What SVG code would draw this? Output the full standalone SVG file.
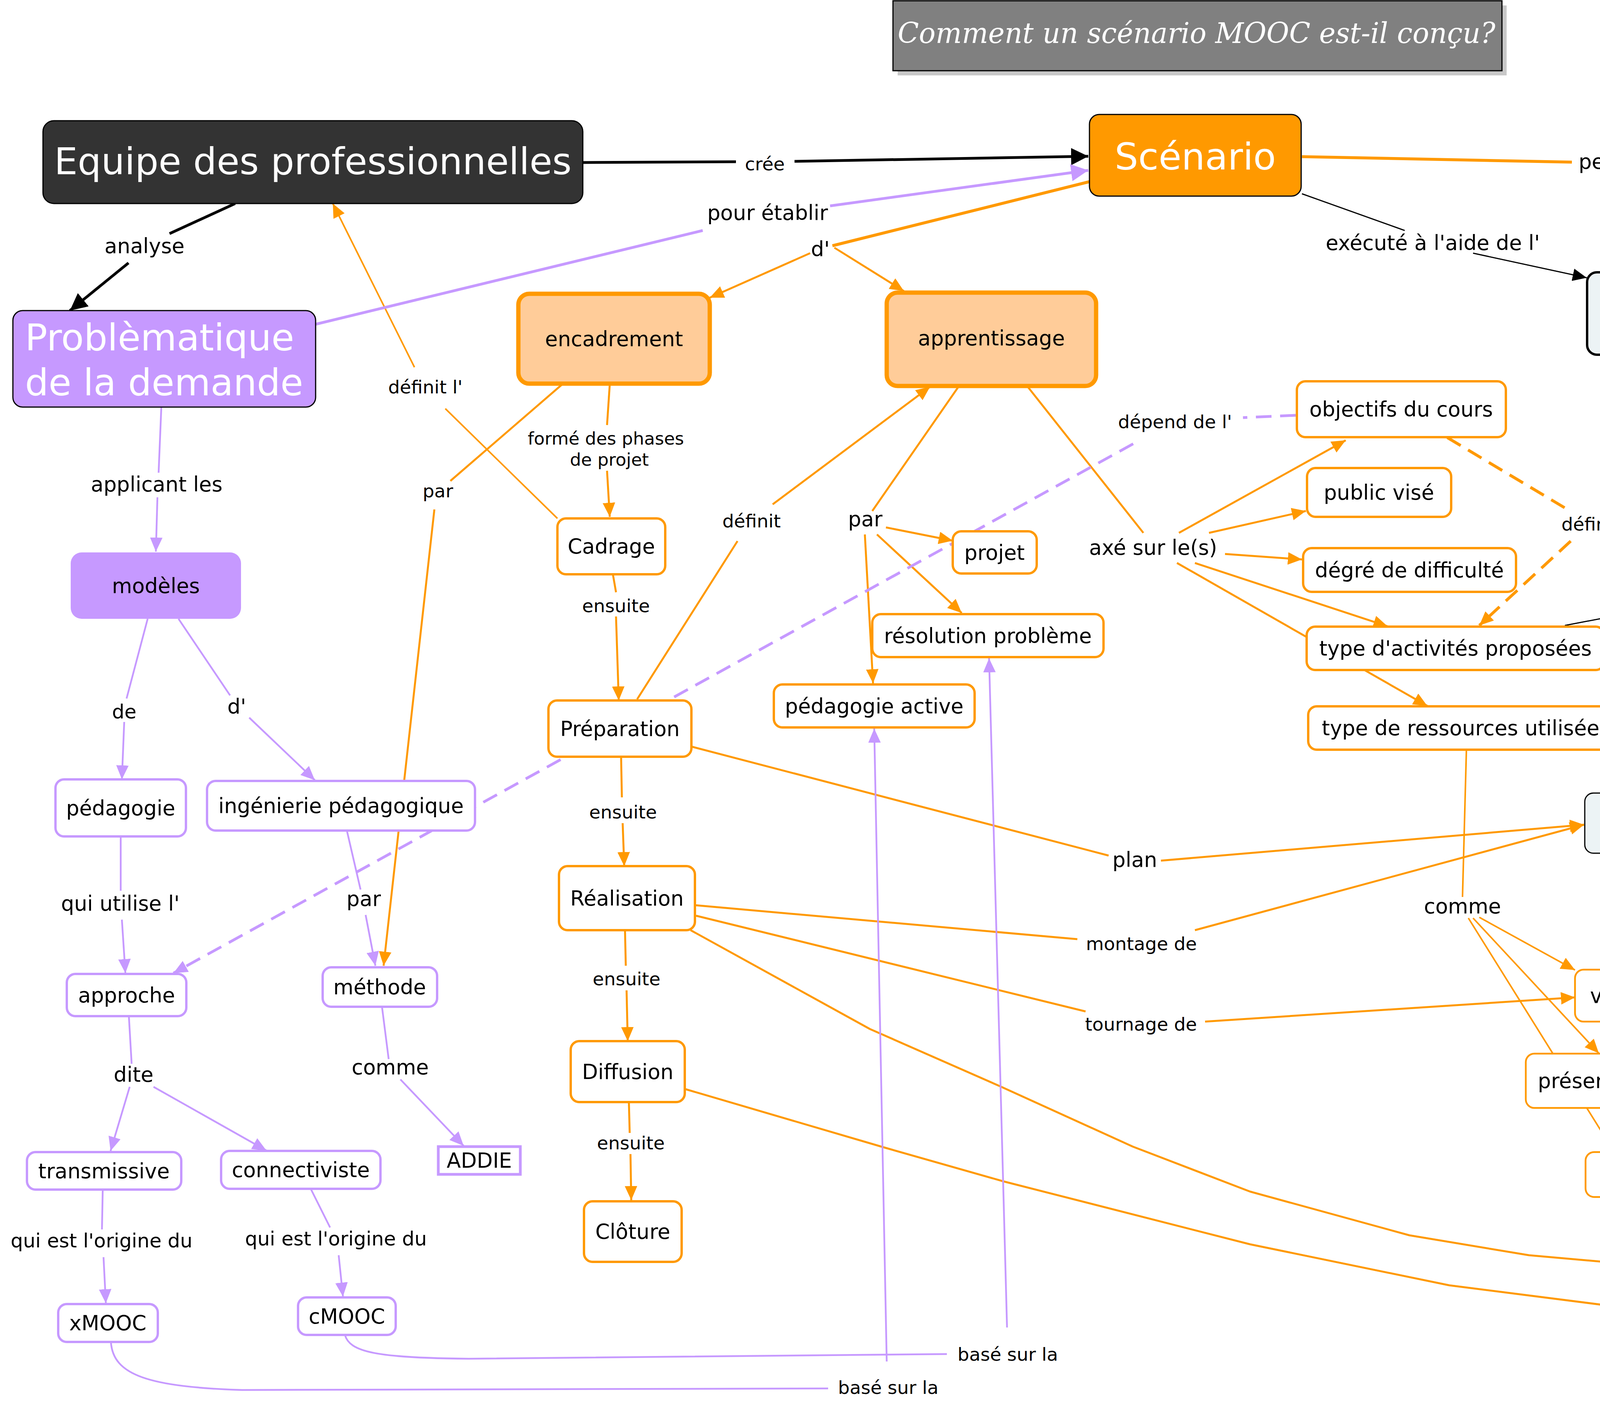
<svg xmlns="http://www.w3.org/2000/svg" width="6372" height="3622" viewBox="0 0 6372 3622">
<defs>
<style>
text{font-family:"DejaVu Sans",Verdana,sans-serif}
.t{font-size:53px;text-anchor:middle;fill:#000}
.ts{font-size:47px;text-anchor:middle;fill:#000}
.tm{font-size:50px;text-anchor:middle;fill:#000}
.tw{font-size:95px;text-anchor:middle;fill:#fff}
.ttl{font-family:"DejaVu Serif",serif;font-style:italic;font-size:72px;fill:#fff}
.c{fill:none;stroke-linejoin:round}
.k3{stroke:#000;stroke-width:3}
.k5{stroke:#000;stroke-width:4.5}
.k7{stroke:#000;stroke-width:7}
.o4{stroke:#FF9900;stroke-width:4}
.o5{stroke:#FF9900;stroke-width:5}
.o8{stroke:#FF9900;stroke-width:7.5}
.p5{stroke:#C699FF;stroke-width:4.5}
.p7{stroke:#C699FF;stroke-width:7}
.g4{stroke:#008000;stroke-width:4}
.s4{stroke:#339966;stroke-width:3.5}
.dash{stroke-dasharray:40 22}
.nk{stroke:#000;stroke-width:3}
.nb{fill:#ECF3F5;stroke:#000;stroke-width:3}
.no{fill:#fff;stroke:#FF9900;stroke-width:6}
.nol{fill:#FFCC99;stroke:#FF9900;stroke-width:11}
.np{fill:#fff;stroke:#C699FF;stroke-width:6}
.ng{fill:#fff;stroke:#008000;stroke-width:6}
</style>
<marker id="ak" markerUnits="userSpaceOnUse" markerWidth="36" markerHeight="32" refX="36" refY="16" orient="auto" viewBox="0 0 36 32"><path d="M0,0L36,16L0,32z" fill="#000"/></marker>
<marker id="akL" markerUnits="userSpaceOnUse" markerWidth="44" markerHeight="44" refX="44" refY="22" orient="auto" viewBox="0 0 44 44"><path d="M0,0L44,22L0,44z" fill="#000"/></marker>
<marker id="ao" markerUnits="userSpaceOnUse" markerWidth="36" markerHeight="32" refX="36" refY="16" orient="auto" viewBox="0 0 36 32"><path d="M0,0L36,16L0,32z" fill="#FF9900"/></marker>
<marker id="aoL" markerUnits="userSpaceOnUse" markerWidth="44" markerHeight="44" refX="44" refY="22" orient="auto" viewBox="0 0 44 44"><path d="M0,0L44,22L0,44z" fill="#FF9900"/></marker>
<marker id="ap" markerUnits="userSpaceOnUse" markerWidth="36" markerHeight="32" refX="36" refY="16" orient="auto" viewBox="0 0 36 32"><path d="M0,0L36,16L0,32z" fill="#C699FF"/></marker>
<marker id="apL" markerUnits="userSpaceOnUse" markerWidth="44" markerHeight="44" refX="44" refY="22" orient="auto" viewBox="0 0 44 44"><path d="M0,0L44,22L0,44z" fill="#C699FF"/></marker>
<marker id="ag" markerUnits="userSpaceOnUse" markerWidth="38" markerHeight="32" refX="38" refY="16" orient="auto" viewBox="0 0 38 32"><path d="M0,0L38,16L0,32z" fill="#008000"/></marker>
<marker id="as" markerUnits="userSpaceOnUse" markerWidth="36" markerHeight="30" refX="36" refY="15" orient="auto" viewBox="0 0 36 30"><path d="M0,0L36,15L0,30z" fill="#339966"/></marker>
</defs>
<rect width="6372" height="3622" fill="#fff"/>

<g id="title">
<rect x="2298" y="14" width="1559" height="179" fill="#C8C8C8"/>
<rect x="2286" y="2" width="1559" height="179" fill="#808080" stroke="#000" stroke-width="3"/>
<text class="ttl" x="2298" y="110" textLength="1530" lengthAdjust="spacingAndGlyphs">Comment un scénario MOOC est-il conçu?</text>
</g>

<g id="connectors">
<path class="c k7" d="M1492,416L1884,414"/>
<path class="c k7" d="M2034,413L2786,400" marker-end="url(#akL)"/>
<path class="c k7" d="M602,521L434,598"/>
<path class="c k7" d="M329,673L179,795" marker-end="url(#akL)"/>
<path class="c k3" d="M3333,496L3596,590"/>
<path class="c k3" d="M3771,648L4062,711" marker-end="url(#ak)"/>
<path class="c k3" d="M4710,866L4803,882"/>
<path class="c k3" d="M5015,918L5109,934" marker-end="url(#ak)"/>
<path class="c k3" d="M4494,911L4580,995"/>
<path class="c k3" d="M4623,1050L4698,1155" marker-end="url(#ak)"/>
<path class="c k5" d="M4766,1258L4835,1370"/>
<path class="c k5" d="M4874,1439L4948,1543" marker-end="url(#ak)"/>
<path class="c k3" d="M4006,1601L4236,1557"/>
<path class="c k3" d="M4527,1546L4654,1559" marker-end="url(#ak)"/>
<path class="c k5" d="M4285,2030L4491,1864"/>
<path class="c k5" d="M4583,1793L4800,1648" marker-end="url(#ak)"/>
<path class="c k3" d="M4983,1648L4985,1732"/>
<path class="c k3" d="M4992,1827L4999,1908" marker-end="url(#ak)"/>
<path class="c k5" d="M4182,2184L4169,2288"/>
<path class="c k5" d="M4159,2361L4149,2481" marker-end="url(#ak)"/>
<path class="c o8" d="M3333,401L4024,415"/>
<path class="c o8" d="M4771,424L5139,434" marker-end="url(#aoL)"/>
<path class="c o8" d="M2789,465L2131,629"/>
<path class="c o5" d="M2074,648L1817,762" marker-end="url(#ao)"/>
<path class="c o5" d="M2136,634L2314,745" marker-end="url(#ao)"/>
<path class="c o5" d="M1561,984L1554,1088"/>
<path class="c o5" d="M1554,1205L1561,1323" marker-end="url(#ao)"/>
<path class="c o5" d="M1439,984L1153,1231"/>
<path class="c o5" d="M1112,1304L982,2472" marker-end="url(#ao)"/>
<path class="c o4" d="M1427,1327L1140,1046"/>
<path class="c o4" d="M1061,940L852,521" marker-end="url(#ao)"/>
<path class="c o5" d="M1569,1470L1577,1516"/>
<path class="c o5" d="M1577,1578L1584,1793" marker-end="url(#ao)"/>
<path class="c o5" d="M1590,1937L1592,2041"/>
<path class="c o5" d="M1594,2107L1598,2217" marker-end="url(#ao)"/>
<path class="c o5" d="M1600,2381L1602,2472"/>
<path class="c o5" d="M1604,2535L1607,2665" marker-end="url(#ao)"/>
<path class="c o5" d="M1610,2823L1612,2900"/>
<path class="c o5" d="M1614,2954L1616,3072" marker-end="url(#ao)"/>
<path class="c o5" d="M1631,1790L1888,1385"/>
<path class="c o5" d="M1978,1291L2381,990" marker-end="url(#ao)"/>
<path class="c o5" d="M2455,988L2233,1308"/>
<path class="c o5" d="M2268,1350L2439,1384" marker-end="url(#ao)"/>
<path class="c o5" d="M2245,1368L2462,1569" marker-end="url(#ao)"/>
<path class="c o5" d="M2214,1368L2235,1749" marker-end="url(#ao)"/>
<path class="c o5" d="M2631,990L2927,1364"/>
<path class="c o5" d="M3018,1364L3445,1127" marker-end="url(#ao)"/>
<path class="c o5" d="M3095,1364L3343,1308" marker-end="url(#ao)"/>
<path class="c o5" d="M3136,1418L3333,1432" marker-end="url(#ao)"/>
<path class="c o5" d="M3059,1441L3552,1603" marker-end="url(#ao)"/>
<path class="c o5" d="M3013,1441L3654,1807" marker-end="url(#ao)"/>
<path class="c o8 dash" d="M3705,1120L4006,1300"/>
<path class="c o8 dash" d="M4021,1385L3787,1601" marker-end="url(#ao)"/>
<path class="c o4" d="M3754,1919L3744,2296"/>
<path class="c o4" d="M3787,2348L4032,2483" marker-end="url(#ao)"/>
<path class="c o4" d="M3771,2350L4093,2696" marker-end="url(#ao)"/>
<path class="c o4" d="M3759,2350L4132,2948" marker-end="url(#ao)"/>
<path class="c o5" d="M1770,1911L2838,2190"/>
<path class="c o5" d="M2972,2203L4055,2111" marker-end="url(#ao)"/>
<path class="c o5" d="M1779,2317L2758,2404"/>
<path class="c o5" d="M3059,2381L4055,2111" marker-end="url(#ao)"/>
<path class="c o5" d="M1782,2344L2779,2589"/>
<path class="c o5" d="M3085,2615L4032,2553" marker-end="url(#ao)"/>
<path class="c o5" d="M1768,2381L2227,2634L2559,2780L2900,2935L3200,3050L3608,3162L3914,3213L4363,3253L4800,3259L5968,3226"/>
<path class="c o5" d="M6318,3193L6352,2410L6340,1972L6313,1210L6241,980L6180,872L6048,733L5894,586L5869,559" marker-end="url(#ao)"/>
<path class="c o5" d="M1755,2788L2263,2937L2569,3024L3200,3185L3710,3290L4220,3355L4800,3392L6030,3390"/>
<path class="c o5" d="M6173,3330L6175,3292"/>
<path class="c o5" d="M6180,3147L6201,2410L6195,1663L6160,1210L6099,1003L6037,872L5945,733L5833,586L5813,557" marker-end="url(#ao)"/>
<path class="c g4" d="M5716,556L5719,741"/>
<path class="c g4" d="M5719,799L5712,976" marker-end="url(#ag)"/>
<path class="c g4" d="M5716,1077L5719,1158"/>
<path class="c g4" d="M5719,1225L5723,1339" marker-end="url(#ag)"/>
<path class="c g4" d="M5731,1447L5739,1557"/>
<path class="c g4" d="M5744,1624L5750,1740" marker-end="url(#ag)"/>
<path class="c g4" d="M5755,1856L5757,1960"/>
<path class="c g4" d="M5760,2014L5767,2168" marker-end="url(#ag)"/>
<path class="c g4" d="M5777,2273L5782,2398"/>
<path class="c g4" d="M5764,2458L5687,2568" marker-end="url(#ag)"/>
<path class="c g4" d="M5787,2458L5790,2792" marker-end="url(#ag)"/>
<path class="c g4" d="M5815,2458L5932,2576" marker-end="url(#ag)"/>
<path class="c g4" d="M5680,1856L5170,2246"/>
<path class="c g4" d="M5005,2324L4256,2518" marker-end="url(#ag)"/>
<path class="c s4" d="M5022,2336L4300,2696" marker-end="url(#as)"/>
<path class="c s4" d="M5045,2342L4246,2946" marker-end="url(#as)"/>
<path class="c p7" d="M808,830L1799,590"/>
<path class="c p7" d="M2125,527L2786,436" marker-end="url(#apL)"/>
<path class="c p5" d="M413,1042L406,1210"/>
<path class="c p5" d="M403,1273L399,1412" marker-end="url(#ap)"/>
<path class="c p5" d="M378,1584L324,1788"/>
<path class="c p5" d="M318,1848L312,1995" marker-end="url(#ap)"/>
<path class="c p5" d="M457,1584L589,1780"/>
<path class="c p5" d="M638,1837L806,1997" marker-end="url(#ap)"/>
<path class="c p5" d="M309,2141L309,2280"/>
<path class="c p5" d="M312,2354L321,2491" marker-end="url(#ap)"/>
<path class="c p5" d="M888,2126L923,2277"/>
<path class="c p5" d="M936,2342L961,2472" marker-end="url(#ap)"/>
<path class="c p5" d="M330,2603L337,2723"/>
<path class="c p5" d="M332,2782L283,2946" marker-end="url(#ap)"/>
<path class="c p5" d="M393,2782L682,2945" marker-end="url(#ap)"/>
<path class="c p5" d="M978,2578L995,2711"/>
<path class="c p5" d="M1025,2763L1187,2933" marker-end="url(#ap)"/>
<path class="c p5" d="M263,3045L261,3147"/>
<path class="c p5" d="M265,3218L271,3336" marker-end="url(#ap)"/>
<path class="c p5" d="M796,3044L845,3142"/>
<path class="c p5" d="M867,3213L878,3319" marker-end="url(#ap)"/>
<path class="c p5" d="M284,3436C290,3520 380,3550 620,3558L2120,3554"/>
<path class="c p5" d="M2270,3485L2238,1865" marker-end="url(#ap)"/>
<path class="c p5" d="M883,3417C895,3460 960,3476 1200,3478L2424,3466"/>
<path class="c p5" d="M2578,3398L2532,1685" marker-end="url(#ap)"/>
<path class="c p7 dash" d="M3317,1063L3182,1069"/>
<path class="c p7 dash" d="M2901,1136L444,2491" marker-end="url(#ap)"/>
</g>

<g id="linking-phrases">
<text class="ts" x="1958" y="436">crée</text>
<text class="t" x="370" y="648">analyse</text>
<text class="t" x="1965" y="563">pour établir</text>
<text class="t" x="2100" y="656">d'</text>
<text class="t" x="4398" y="432">permet de mettre en place</text>
<text class="t" x="3668" y="640">exécuté à l'aide de l'</text>
<text class="t" x="4911" y="918">comme</text>
<text class="t" x="4601" y="1061">sur la base d'</text>
<text class="ts" x="5718" y="786">consiste en</text>
<text class="ts" x="5717" y="1205">qui sont faits de</text>
<text class="t" x="4856" y="1418">qui permet d'assembler les</text>
<text class="ts" x="5741" y="1605">qui sont divisées en</text>
<text class="t" x="4363" y="1551">est écrit sur</text>
<text class="t" x="4986" y="1794">comme</text>
<text class="t" x="4529" y="1840">qui se fait sur les</text>
<text class="ts" x="5757" y="2003">suivies d'</text>
<text class="ts" x="5110" y="2311">faites de</text>
<text class="t" x="5788" y="2436">par</text>
<text class="ts" x="4165" y="2342">de</text>
<text class="t" x="3744" y="2338">comme</text>
<text class="ts" x="4072" y="1358">définit</text>
<text class="ts" x="3008" y="1096">dépend de l'</text>
<text class="t" x="2952" y="1420">axé sur le(s)</text>
<text class="t" x="2215" y="1347">par</text>
<text class="ts" x="1924" y="1350">définit</text>
<text class="ts" x="1089" y="1007">définit l'</text>
<text class="ts" style="font-size:45px"><tspan x="1551" y="1138">formé des phases</tspan><tspan x="1560" y="1192">de projet</tspan></text>
<text class="ts" x="1121" y="1273">par</text>
<text class="ts" x="1577" y="1567">ensuite</text>
<text class="ts" x="1595" y="2095">ensuite</text>
<text class="ts" x="1604" y="2522">ensuite</text>
<text class="ts" x="1615" y="2942">ensuite</text>
<text class="t" x="401" y="1258">applicant les</text>
<text class="tm" x="318" y="1839">de</text>
<text class="t" x="606" y="1827">d'</text>
<text class="t" x="308" y="2331">qui utilise l'</text>
<text class="t" x="931" y="2319">par</text>
<text class="t" x="342" y="2769">dite</text>
<text class="t" x="999" y="2750">comme</text>
<text class="tm" x="260" y="3193">qui est l'origine du</text>
<text class="tm" x="860" y="3188">qui est l'origine du</text>
<text class="ts" x="2580" y="3483">basé sur la</text>
<text class="ts" x="2274" y="3568">basé sur la</text>
<text class="t" x="2905" y="2219">plan</text>
<text class="ts" x="2922" y="2432">montage de</text>
<text class="ts" x="2921" y="2638">tournage de</text>
<text class="ts" x="6150" y="3232">mise en ligne</text>
<text class="ts" x="6175" y="3405">promotion</text>
</g>

<g id="n-equipe"><rect x="110" y="309" width="1382" height="212" rx="28" fill="#333333" class="nk"/><text class="tw" x="801" y="446">Equipe des professionnelles</text></g>
<g id="n-scenario"><rect x="2789" y="293" width="542" height="209" rx="25" fill="#FF9900" class="nk"/><text class="tw" x="3060" y="434">Scénario</text></g>
<g id="n-dispositif"><rect x="5141" y="313" width="1141" height="241" rx="25" fill="#97C800" class="nk"/><text class="tw" x="5711" y="463">Dispositif de formation</text></g>
<g id="n-problematique"><rect x="33" y="795" width="775" height="247" rx="25" fill="#C699FF" class="nk"/><text class="tw" style="text-anchor:start"><tspan x="64" y="897">Problèmatique</tspan><tspan x="64" y="1012">de la demande</tspan></text></g>
<g id="n-encadrement"><rect x="1327" y="752" width="490" height="230" rx="28" class="nol"/><text class="t" x="1572" y="886">encadrement</text></g>
<g id="n-apprentissage"><rect x="2270" y="749" width="536" height="239" rx="28" class="nol"/><text class="t" x="2538" y="884">apprentissage</text></g>
<g id="n-cadrage"><rect x="1427" y="1327" width="276" height="143" rx="22" class="no"/><text class="t" x="1565" y="1417">Cadrage</text></g>
<g id="n-preparation"><rect x="1404" y="1793" width="366" height="144" rx="22" class="no"/><text class="t" x="1587" y="1884">Préparation</text></g>
<g id="n-realisation"><rect x="1431" y="2217" width="348" height="164" rx="22" class="no"/><text class="t" x="1605" y="2318">Réalisation</text></g>
<g id="n-diffusion"><rect x="1461" y="2665" width="292" height="156" rx="22" class="no"/><text class="t" x="1607" y="2762">Diffusion</text></g>
<g id="n-cloture"><rect x="1495" y="3075" width="250" height="155" rx="22" class="no"/><text class="t" x="1620" y="3171">Clôture</text></g>
<g id="n-projet"><rect x="2439" y="1360" width="215" height="108" rx="22" class="no"/><text class="t" x="2546" y="1433">projet</text></g>
<g id="n-resolution"><rect x="2233" y="1572" width="592" height="110" rx="22" class="no"/><text class="t" x="2529" y="1646">résolution problème</text></g>
<g id="n-pedactive"><rect x="1981" y="1752" width="514" height="110" rx="22" class="no"/><text class="t" x="2238" y="1826">pédagogie active</text></g>
<g id="n-objectifs"><rect x="3320" y="976" width="535" height="143" rx="22" class="no"/><text class="t" x="3587" y="1066">objectifs du cours</text></g>
<g id="n-public"><rect x="3346" y="1198" width="369" height="125" rx="22" class="no"/><text class="t" x="3530" y="1279">public visé</text></g>
<g id="n-degre"><rect x="3336" y="1403" width="545" height="112" rx="22" class="no"/><text class="t" x="3608" y="1478">dégré de difficulté</text></g>
<g id="n-activites"><rect x="3345" y="1604" width="762" height="111" rx="22" class="no"/><text class="t" x="3726" y="1678">type d'activités proposées</text></g>
<g id="n-ressources"><rect x="3349" y="1808" width="808" height="111" rx="22" class="no"/><text class="t" x="3753" y="1882">type de ressources utilisées</text></g>
<g id="n-outil-exec"><rect x="4063" y="697" width="645" height="211" rx="25" class="nb" style="stroke-width:6"/><text class="t" x="4385" y="821">outil d'exécution</text></g>
<g id="n-lams"><ellipse cx="5268" cy="957" rx="163" ry="70" class="nb"/><text class="t" style="font-size:46px" x="5268" y="973">LAMS</text></g>
<g id="n-outil-conc"><rect x="4457" y="1158" width="560" height="98" rx="20" class="nb"/><text class="t" x="4737" y="1226">outil de conception</text></g>
<g id="n-patrons"><rect x="4659" y="1547" width="647" height="99" rx="20" class="nb"/><text class="t" x="4982" y="1615">patrons de conception</text></g>
<g id="n-tps"><ellipse cx="5010" cy="1993" rx="226" ry="83" class="nb"/><text class="t" style="font-size:46px" x="5010" y="2009">Think Pair Share</text></g>
<g id="n-script"><rect x="4057" y="2030" width="269" height="154" rx="22" class="nb"/><text class="t" x="4191" y="2126">script</text></g>
<g id="n-video"><rect x="4032" y="2482" width="222" height="133" rx="22" class="no" style="stroke-width:4.5"/><text class="t" x="4143" y="2567">vidéo</text></g>
<g id="n-ppt"><rect x="3906" y="2697" width="503" height="139" rx="22" class="no" style="stroke-width:4.5"/><text class="t" x="4157" y="2785">présentation ppt</text></g>
<g id="n-texte"><rect x="4059" y="2949" width="223" height="115" rx="22" class="no" style="stroke-width:4.5"/><text class="t" x="4170" y="3025">texte</text></g>
<g id="n-modules"><rect x="5514" y="978" width="396" height="96" rx="22" class="ng"/><text class="t" x="5712" y="1045">4-6 modules</text></g>
<g id="n-lecons"><rect x="5426" y="1339" width="601" height="108" rx="22" class="ng"/><text class="t" x="5726" y="1412">5-6 leçons de 1h-2h</text></g>
<g id="n-sequences"><rect x="5419" y="1743" width="669" height="111" rx="22" class="ng"/><text class="t" x="5753" y="1817">séquences de 5-10min</text></g>
<g id="n-evaluations"><rect x="5590" y="2171" width="363" height="100" rx="22" class="ng"/><text class="t" x="5771" y="2240">évaluations</text></g>
<g id="n-quiz"><rect x="5563" y="2570" width="165" height="106" rx="22" class="ng"/><text class="t" x="5645" y="2642">quiz</text></g>
<g id="n-pairs"><rect x="5894" y="2578" width="187" height="107" rx="22" class="ng"/><text class="t" x="5987" y="2650">pairs</text></g>
<g id="n-exercice"><rect x="5650" y="2792" width="278" height="98" rx="22" class="ng"/><text class="t" x="5789" y="2860">exercice</text></g>
<g id="n-modeles"><rect x="181" y="1414" width="436" height="170" rx="28" fill="#C699FF"/><text class="t" x="399" y="1518">modèles</text></g>
<g id="n-pedagogie"><rect x="142" y="1995" width="334" height="146" rx="22" class="np"/><text class="t" x="309" y="2087">pédagogie</text></g>
<g id="n-ingenierie"><rect x="530" y="1999" width="686" height="127" rx="22" class="np"/><text class="t" x="873" y="2081">ingénierie pédagogique</text></g>
<g id="n-approche"><rect x="171" y="2493" width="306" height="108" rx="22" class="np"/><text class="t" x="324" y="2566">approche</text></g>
<g id="n-methode"><rect x="826" y="2476" width="293" height="101" rx="22" class="np"/><text class="t" x="972" y="2545">méthode</text></g>
<g id="n-addie"><rect x="1122" y="2935" width="210" height="71" class="np" style="stroke-width:7"/><text class="t" x="1227" y="2989">ADDIE</text></g>
<g id="n-transmissive"><rect x="69" y="2949" width="395" height="96" rx="22" class="np"/><text class="t" x="266" y="3016">transmissive</text></g>
<g id="n-connectiviste"><rect x="566" y="2946" width="408" height="97" rx="22" class="np"/><text class="t" x="770" y="3013">connectiviste</text></g>
<g id="n-xmooc"><rect x="149" y="3338" width="255" height="97" rx="22" class="np"/><text class="t" x="276" y="3405">xMOOC</text></g>
<g id="n-cmooc"><rect x="763" y="3321" width="250" height="96" rx="22" class="np"/><text class="t" x="888" y="3388">cMOOC</text></g>
</svg>
